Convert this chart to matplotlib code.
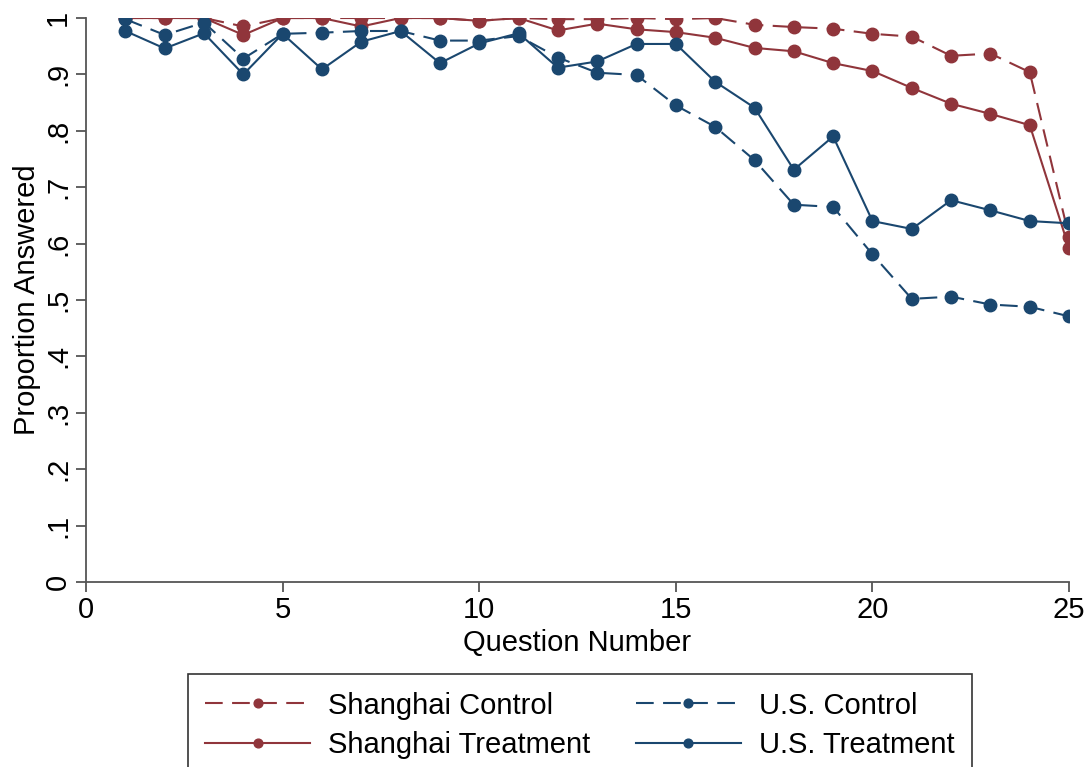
import numpy as np
import matplotlib
matplotlib.use('Agg')
import matplotlib.pyplot as plt

plt.rcParams['font.family'] = ['Liberation Sans', 'DejaVu Sans']

# question numbers 1..25
questions = list(range(1, 26))

shanghai_control = [1.0, 1.0, 1.0, .985, 1.0, 1.0, 1.0, 1.0, 1.0, .995,
                    1.0, .998, .998, 1.0, .998, 1.0, .988, .984, .981, .972,
                    .967, .933, .937, .904, .612]
shanghai_treat = [1.0, 1.0, 1.0, .970, 1.0, 1.0, .985, 1.0, 1.0, .995,
                  1.0, .978, .990, .980, .975, .965, .947, .941, .920, .906,
                  .876, .848, .830, .810, .592]
us_control = [.998, .970, .992, .928, .972, .974, .977, .977, .960, .960,
              .968, .930, .903, .899, .845, .807, .748, .669, .665, .581,
              .502, .506, .492, .488, .471]
us_treat = [.977, .946, .973, .900, .972, .909, .958, .977, .920, .955,
            .973, .912, .923, .954, .954, .887, .841, .731, .790, .640,
            .626, .677, .659, .640, .636]

red = '#90353B'
blue = '#1A476F'
fs = 21

fig = plt.figure(figsize=(10.92, 7.67), dpi=100)
ax = fig.add_axes([0.0788, 0.2412, 0.979 - 0.0788, 0.9765 - 0.2412])

dash = (0, (8.5, 4.5))
ax.plot(questions, shanghai_control, color=red, linestyle=dash, lw=1.5,
        marker='o', markersize=9, label='Shanghai Control')
ax.plot(questions, shanghai_treat, color=red, linestyle='-', lw=1.5,
        marker='o', markersize=9, label='Shanghai Treatment')
ax.plot(questions, us_control, color=blue, linestyle=dash, lw=1.5,
        marker='o', markersize=9, label='U.S. Control')
ax.plot(questions, us_treat, color=blue, linestyle='-', lw=1.5,
        marker='o', markersize=9, label='U.S. Treatment')

ax.set_xlim(0, 25)
ax.set_ylim(0, 1)
ax.set_xticks([0, 5, 10, 15, 20, 25])
yt = np.arange(0, 11) / 10
ax.set_yticks(yt)
ax.set_yticklabels(['0', '.1', '.2', '.3', '.4', '.5', '.6', '.7', '.8', '.9', '1'],
                   rotation=90, va='center')
for s in ['top', 'right']:
    ax.spines[s].set_visible(False)
for s in ['left', 'bottom']:
    ax.spines[s].set_color('#555555')
    ax.spines[s].set_linewidth(1.3)
ax.tick_params(direction='out', length=7, width=1.3, color='#555555',
               labelsize=fs, pad=3)
ax.set_xlabel('Question Number', fontsize=fs, labelpad=4)
ax.set_ylabel('Proportion Answered', fontsize=fs, labelpad=2)

leg = fig.legend(loc='upper center', bbox_to_anchor=(0.531, 0.121), ncol=2,
                 fontsize=fs, frameon=True, fancybox=False, edgecolor='black',
                 handlelength=3.6, markerscale=0.7, columnspacing=1.55,
                 handletextpad=0.62, borderpad=0.6, labelspacing=0.38,
                 borderaxespad=0)
leg.get_frame().set_linewidth(1.2)

fig.savefig('out.png', dpi=100)
